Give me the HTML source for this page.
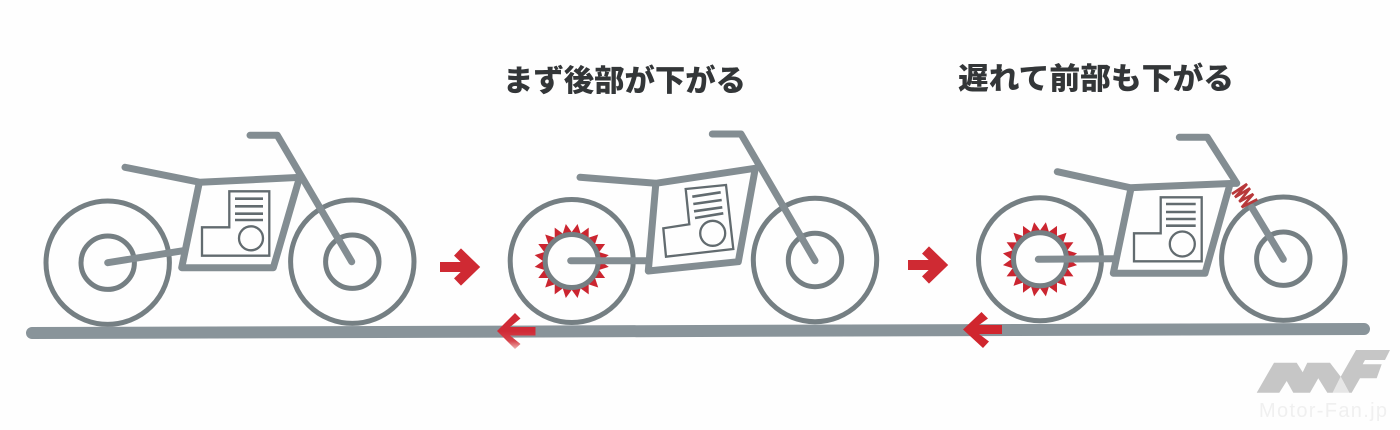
<!DOCTYPE html>
<html lang="ja">
<head>
<meta charset="utf-8">
<style>
html,body{margin:0;padding:0;background:#fefefe;width:1400px;height:430px;overflow:hidden}
svg{display:block}
.g{fill:none;stroke:#838d92;stroke-linecap:round;stroke-linejoin:round}
.f{stroke-width:7}
.w{stroke-width:5;fill:none;stroke:#757f83}
.e{fill:none;stroke:#626b6f;stroke-width:2.3}
.l{fill:none;stroke:#626b6f;stroke-width:2.6}
.t{font-family:"Liberation Sans","Noto Sans CJK JP",sans-serif;font-weight:900;font-size:30px;fill:#333638}
.r{fill:none;stroke:#cf2a33;stroke-width:10;stroke-linejoin:miter;stroke-miterlimit:10}
</style>
</head>
<body>
<svg width="1400" height="430" viewBox="0 0 1400 430" xmlns="http://www.w3.org/2000/svg">
<defs>
<linearGradient id="fade" gradientUnits="userSpaceOnUse" x1="0" y1="331" x2="0" y2="349">
<stop offset="0" stop-color="#d02a36"/>
<stop offset=".55" stop-color="#d6444c"/>
<stop offset="1" stop-color="#eeb4b2"/>
</linearGradient>
<polygon id="tooth" points="-5,-27.5 0,-37.5 5,-27.5" fill="#cb2530"/>
<g id="q">
<use href="#tooth" transform="rotate(9)"/>
<use href="#tooth" transform="rotate(27)"/>
<use href="#tooth" transform="rotate(45)"/>
<use href="#tooth" transform="rotate(63)"/>
<use href="#tooth" transform="rotate(81)"/>
</g>
<g id="star">
<use href="#q"/>
<use href="#q" transform="rotate(90)"/>
<use href="#q" transform="rotate(180)"/>
<use href="#q" transform="rotate(270)"/>
<circle r="28.5" fill="#cb2530"/>
<circle r="26" fill="#fefefe"/>
</g>
</defs>

<text class="t" x="503" y="91" textLength="243" lengthAdjust="spacingAndGlyphs">まず後部が下がる</text>
<text class="t" x="958" y="89" textLength="276" lengthAdjust="spacingAndGlyphs">遅れて前部も下がる</text>

<!-- ground -->
<line x1="32" y1="333" x2="1364" y2="329" stroke="#89949a" stroke-width="12" stroke-linecap="round"/>

<!-- bike 1 -->
<g>
<circle class="w" cx="107.7" cy="262.7" r="61.7"/>
<circle class="w" cx="107.7" cy="262.7" r="26.7"/>
<circle class="w" cx="352.3" cy="261.7" r="61.7"/>
<circle class="w" cx="352.3" cy="261.7" r="26.7"/>
<polyline class="g f" points="125,167.3 200,182.3 301.7,177.3"/>
<polyline class="g f" points="250,135.3 277.3,135.3 351.7,261.7"/>
<polyline class="g f" points="298.3,181.7 273.3,267.7 181.7,267.7 199,184"/>
<line class="g f" x1="107.7" y1="262.7" x2="183.3" y2="250.7"/>
<polygon class="e" points="229.3,191.3 269.3,191.3 269.3,255.7 202,255.7 202,227.3 229.3,227.3"/>
<circle class="e" cx="251" cy="238.3" r="12"/>
<path class="l" d="M235 198.7H263M235 206.3H263M235 213.7H263M235 220H263"/>
</g>

<!-- bike 2 -->
<g>
<use href="#star" transform="translate(571.7 261)"/>
<circle class="w" cx="571.7" cy="261" r="61.5"/>
<circle class="w" cx="571.7" cy="261" r="26.5" stroke-width="5.5"/>
<circle class="w" cx="815" cy="260" r="61.7"/>
<circle class="w" cx="815" cy="260" r="26.7"/>
<polyline class="g f" points="580,177.3 655.7,183.3 755,168.3"/>
<polyline class="g f" points="712.3,134 741,134 815,260.7"/>
<polyline class="g f" points="755,170 738.3,261.7 648.3,271 655.7,185"/>
<line class="g f" x1="570.7" y1="260.7" x2="646.7" y2="260.7"/>
<polygon class="e" points="685.7,189 726,185 733.3,249 666,256.7 663.3,228.3 689.3,224.3"/>
<circle class="e" cx="712.7" cy="233.3" r="12.5"/>
<path class="l" d="M692.3 196.7L720.7 192.3M693.3 204L721.7 200M694 211.3L722.3 207.3M695 218L723.3 213.3"/>
</g>

<!-- bike 3 -->
<g>
<use href="#star" transform="translate(1040 259.3)"/>
<circle class="w" cx="1040" cy="259.3" r="61.5"/>
<circle class="w" cx="1040" cy="259.3" r="26.5" stroke-width="5.5"/>
<circle class="w" cx="1283.3" cy="258.7" r="61.7"/>
<circle class="w" cx="1283.3" cy="258.7" r="26.7"/>
<polyline class="g f" points="1057.3,171.7 1130,187.7 1236.7,183.3"/>
<polyline class="g f" points="1179.3,137.3 1207.3,137.3 1236.7,183.3"/>
<line class="g f" x1="1251.7" y1="207.3" x2="1283.3" y2="259.3"/>
<polyline class="g f" points="1229.3,186.7 1205,273.3 1113.3,273.3 1131,188.3"/>
<line class="g f" x1="1038.3" y1="259.3" x2="1115" y2="258.7"/>
<polygon class="e" points="1160.7,197.3 1201.7,197.3 1201.7,261.3 1134,261.3 1134,233.3 1160.7,233.3"/>
<circle class="e" cx="1182.3" cy="244" r="12.5"/>
<path class="l" d="M1166 204H1195.7M1166 212H1195.7M1166 219H1195.7M1166 225.7H1195.7"/>
<polyline points="1232,194 1247,184 1235,197.3 1250,188.3 1239.3,201.7 1253.3,194 1241.7,207.3 1257.3,199.3" fill="none" stroke="#b8383a" stroke-width="2.6"/>
</g>

<!-- red arrows -->
<path class="r" d="M440 267H473"/>
<path class="r" d="M457.5 252L473 267L457.5 282"/>
<path class="r" d="M908 265H941"/>
<path class="r" d="M925.5 250L941 265L925.5 280"/>
<polygon fill="url(#fade)" points="497,331 515,313 520.5,318.5 510,327 535.5,327 535.5,335.5 510,335.5 520.5,344 515,349"/>
<polygon fill="#d0262e" points="963,329.5 981.5,312 988,318.5 979,325 1002,325 1002,334 979,334 989,341.5 983,348"/>

<!-- logo -->
<polygon fill="#c6c6c6" points="1256.7,392.7 1274,362.7 1296.7,362.7 1302.7,372.3 1307.3,362.7 1330,362.7 1340.7,376.7 1356,350 1390,350 1385,360 1365,360 1362.7,364.3 1381.7,364.3 1376.7,378.3 1360,378.3 1351.7,392.7 1349.3,392.7 1340.7,376.7 1332.7,392.7 1327.3,392.7 1318.3,378.3 1310,392.7 1293.3,392.7 1286.7,381 1279.3,392.7"/>
<polygon fill="#e6e6e6" points="1332.7,392.7 1340.7,376.7 1349.3,392.7"/>
<text x="1259" y="417" font-family="'Liberation Sans',sans-serif" font-size="20" fill="#f0f0f0" textLength="128">Motor-Fan.jp</text>
</svg>
</body>
</html>
